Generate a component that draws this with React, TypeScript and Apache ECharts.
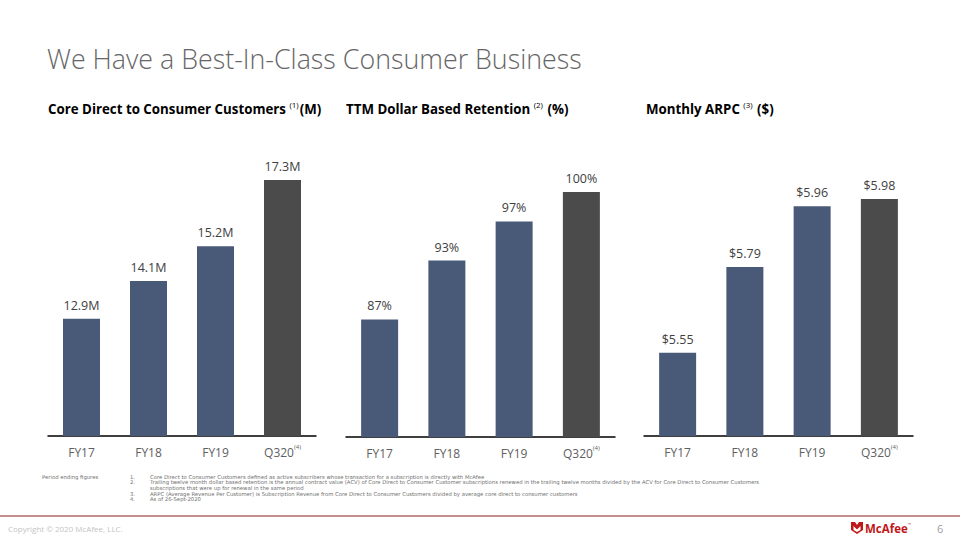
import React, { useEffect, useRef } from "react";
import * as echarts from "echarts";

const categories = ["FY17", "FY18", "FY19", "Q320"];
const customers = [12.9, 14.1, 15.2, 17.3];
const retention = [87, 93, 97, 100];
const arpc = [5.55, 5.79, 5.96, 5.98];

const footnoteNumbers = ["1.", "2.", "", "3.", "4."];
const footnoteTexts = [
  "Core Direct to Consumer Customers defined as active subscribers whose transaction for a subscription is directly with McAfee",
  "Trailing twelve month dollar based retention is the annual contract value (ACV) of Core Direct to Consumer Customer subscriptions renewed in the trailing twelve months divided by the ACV for Core Direct to Consumer Customers",
  "subscriptions that were up for renewal in the same period",
  "ARPC (Average Revenue Per Customer) is Subscription Revenue from Core Direct to Consumer Customers divided by average core direct to consumer customers",
  "As of 26-Sept-2020",
];

const BLUE = "#485a78";
const DARK = "#4b4b4b";
const FONT = "'Open Sans', 'Noto Sans', sans-serif";
const SMALL_FONT = "'DejaVu Sans', sans-serif";

export default function App() {
  const ref = useRef<HTMLDivElement>(null);
  useEffect(() => {
    if (!ref.current) return;
    const chart = echarts.init(ref.current, undefined, { renderer: "svg" });

    const grids = [
      { left: 48, right: 644, top: 180, bottom: 104 },
      { left: 346, right: 345, top: 192, bottom: 103 },
      { left: 644, right: 47, top: 199, bottom: 104 },
    ];
    const ranges = [
      [9.18, 17.3],
      [75, 100],
      [5.317, 5.98],
    ];
    const datasets = [customers, retention, arpc];
    const fmts = [
      (v: number) => `${v.toFixed(1)}M`,
      (v: number) => `${v}%`,
      (v: number) => `$${v.toFixed(2)}`,
    ];

    const xAxis = grids.map((_, i) => ({
      type: "category",
      gridIndex: i,
      data: categories,
      axisLine: { lineStyle: { color: "#000", width: 1.5 } },
      axisTick: { show: false },
      axisLabel: {
        interval: 0,
        margin: 8,
        fontFamily: FONT,
        formatter: (v: string) => (v === "Q320" ? `{a|${v}}{s|(4)}` : `{a|${v}}`),
        rich: {
          a: { fontSize: 12, color: "#606060", fontFamily: FONT, lineHeight: 16 },
          s: { fontSize: 6, color: "#606060", fontFamily: FONT, verticalAlign: "top", lineHeight: 16, padding: [0, 0, 8, 0] },
        },
      },
    }));
    const yAxis = grids.map((_, i) => ({
      type: "value",
      gridIndex: i,
      min: ranges[i][0],
      max: ranges[i][1],
      show: false,
      splitLine: { show: false },
    }));
    const series = grids.map((_, i) => ({
      type: "bar",
      xAxisIndex: i,
      yAxisIndex: i,
      barWidth: 37,
      data: datasets[i].map((v, j) => ({
        value: v,
        itemStyle: { color: j === categories.length - 1 ? DARK : BLUE },
      })),
      label: {
        show: true,
        position: "top",
        distance: 7,
        fontFamily: FONT,
        fontSize: 12.5,
        color: "#404040",
        formatter: (p: any) => fmts[i](p.value),
      },
    }));

    const sub = (x: number, main: string, sup: string, tail: string) => ({
      type: "text",
      left: x,
      top: 100,
      style: {
        text: `{b|${main} }{s|${sup}}{b|${tail}}`,
        rich: {
          b: { fontSize: 13.3, fontWeight: "bold", color: "#5a5a5a", fontFamily: FONT, lineHeight: 18 },
          s: { fontSize: 8, color: "#5a5a5a", fontFamily: FONT, verticalAlign: "top", lineHeight: 18, padding: [0, 1, 6, 0] },
        },
      },
    });

    const fnStyle = { fontSize: 5.3, lineHeight: 5.6, fill: "#707070", fontFamily: SMALL_FONT };

    chart.setOption({
      animation: false,
      grid: grids,
      xAxis,
      yAxis,
      series,
      graphic: [
        {
          type: "text",
          x: 47,
          y: 58,
          style: {
            text: "We Have a Best-In-Class Consumer Business",
            fontSize: 26.8,
            fontWeight: 300,
            fill: "#666666",
            fontFamily: FONT,
            verticalAlign: "middle",
          },
        },
        sub(48, "Core Direct to Consumer Customers", "(1)", "(M)"),
        sub(346, "TTM Dollar Based Retention", "(2)", " (%)"),
        sub(646, "Monthly ARPC", "(3)", " ($)"),
        {
          type: "text",
          x: 42,
          y: 474,
          style: { ...fnStyle, text: "Period ending figures" },
        },
        {
          type: "text",
          x: 130,
          y: 474,
          style: { ...fnStyle, text: footnoteNumbers.join("\n") },
        },
        {
          type: "text",
          x: 150,
          y: 474,
          style: { ...fnStyle, text: footnoteTexts.join("\n") },
        },
        {
          type: "line",
          shape: { x1: 0, y1: 516, x2: 960, y2: 516 },
          style: { stroke: "#8b1f1f", lineWidth: 1 },
        },
        {
          type: "text",
          x: 8,
          y: 528,
          style: { text: "Copyright © 2020 McAfee, LLC.", fontSize: 8, fill: "#c4c4c4", fontFamily: FONT, verticalAlign: "middle" },
        },
        {
          type: "polygon",
          shape: {
            points: [
              [851, 522], [855, 522], [857, 525], [859, 522], [863, 522],
              [863, 530], [857, 534], [851, 530],
            ],
          },
          style: { fill: "#c01818" },
        },
        {
          type: "polygon",
          shape: { points: [[853.5, 526], [857, 529.5], [860.5, 526], [860.5, 530], [857, 532], [853.5, 530]] },
          style: { fill: "#ffffff" },
        },
        {
          type: "text",
          x: 865,
          y: 528,
          style: { text: "McAfee", fontSize: 11.5, fontWeight: "bold", fill: "#c01818", fontFamily: FONT, verticalAlign: "middle" },
        },
        {
          type: "text",
          x: 908,
          y: 524,
          style: { text: "™", fontSize: 4, fill: "#c01818", fontFamily: FONT, verticalAlign: "middle" },
        },
        {
          type: "text",
          x: 937,
          y: 528,
          style: { text: "6", fontSize: 11, fill: "#a0a0a0", fontFamily: FONT, verticalAlign: "middle" },
        },
      ],
    });
    return () => chart.dispose();
  }, []);
  return (
    <div
      ref={ref}
      style={{ position: "absolute", left: 0, top: 0, width: 960, height: 540, background: "#fff" }}
    />
  );
}
